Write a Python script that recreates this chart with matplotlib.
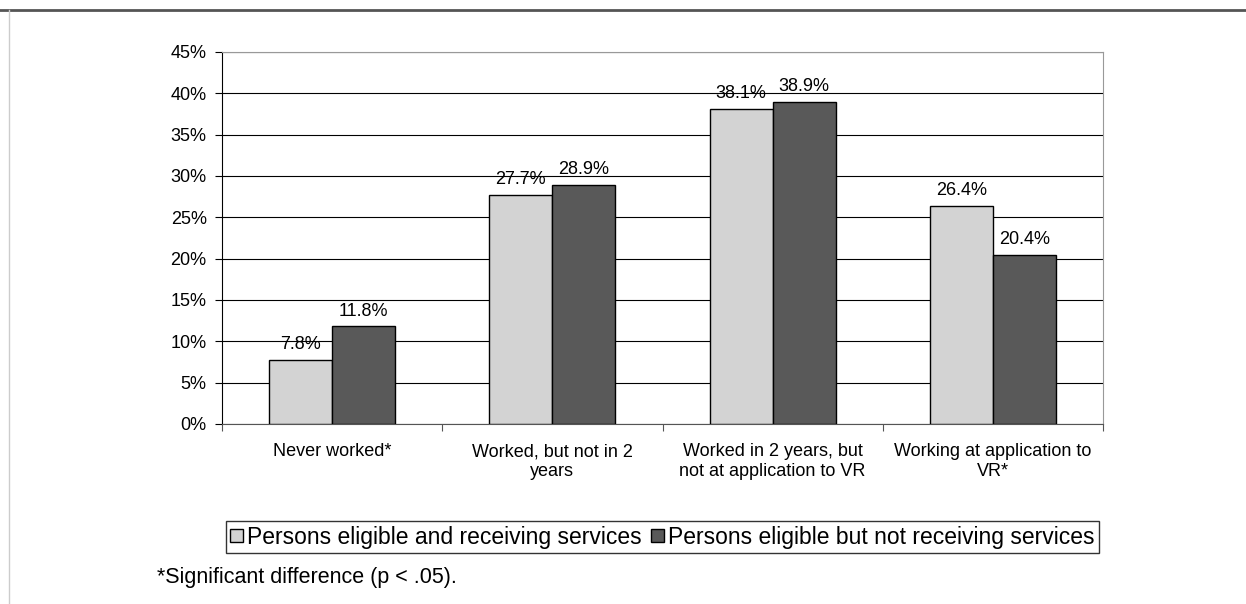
import matplotlib
matplotlib.use("Agg")
import matplotlib.pyplot as plt
import numpy as np
from matplotlib.lines import Line2D

categories = ["Never worked*", "Worked, but not in 2\nyears",
              "Worked in 2 years, but\nnot at application to VR",
              "Working at application to\nVR*"]
series_names = ["Persons eligible and receiving services",
                "Persons eligible but not receiving services"]
receiving = [7.8, 27.7, 38.1, 26.4]
not_receiving = [11.8, 28.9, 38.9, 20.4]
yticks = [0, 5, 10, 15, 20, 25, 30, 35, 40, 45]
footnote = "*Significant difference (p < .05)."

plt.rcParams['font.family'] = ['Liberation Sans', 'DejaVu Sans']
W, H = 1246, 604
fig = plt.figure(figsize=(W/100, H/100), dpi=100)
ax = fig.add_axes([222/W, 1-424/H, (1103-222)/W, (424-52)/H])

x = np.arange(len(categories))
bw = 1/3.5
colors = ["#d3d3d3", "#595959"]
for i, (vals, c, name) in enumerate(zip([receiving, not_receiving], colors, series_names)):
    pos = x + (i - 0.5) * bw
    ax.bar(pos, vals, width=bw, color=c, edgecolor="black", linewidth=1.0,
           label=name, zorder=3)
    for p, v in zip(pos, vals):
        ax.annotate(f"{v:.1f}%", (p, v), xytext=(0, 5), textcoords="offset points",
                    ha="center", va="bottom", fontsize=13)

ax.set_xlim(-0.5, len(categories) - 0.5)
ax.set_ylim(0, 45)
ax.set_yticks(yticks)
ax.set_yticklabels([f"{t}%" for t in yticks], fontsize=13)
ax.set_xticks(np.arange(len(categories) + 1) - 0.5, minor=False)
ax.set_xticklabels([])
ax.set_xticks(x, minor=True)
ax.set_xticklabels(categories, minor=True, fontsize=13, linespacing=1.2)
ax.tick_params(axis="x", which="minor", length=0, pad=14)
ax.tick_params(axis="x", which="major", length=5, direction="out", color="#555555")
ax.tick_params(axis="y", length=5, direction="out", pad=6)
ax.yaxis.grid(True, color="black", linewidth=0.8, zorder=0)
ax.set_axisbelow(True)
for s in ["top", "right"]:
    ax.spines[s].set_color("#999999")
ax.spines["left"].set_color("black")
ax.spines["bottom"].set_color("#555555")

leg = ax.legend(loc="upper center", bbox_to_anchor=(0.5, (424-521)/372), ncol=2, fontsize=16.5,
                frameon=True, fancybox=False, edgecolor="black", handlelength=0.55,
                handleheight=0.55, handletextpad=0.2, columnspacing=0.4,
                borderpad=0.2, borderaxespad=0)
leg.get_frame().set_linewidth(1.0)

fig.text(157/W, 1-577/H, footnote, fontsize=15.5, va="center", ha="left")

fig.add_artist(Line2D([0, 1], [1-10/H, 1-10/H], color="#555555", linewidth=2,
                      transform=fig.transFigure))
fig.add_artist(Line2D([8.5/W, 8.5/W], [0, 1-10/H], color="#cccccc", linewidth=1,
                      transform=fig.transFigure))

fig.savefig("out.png", dpi=100)
